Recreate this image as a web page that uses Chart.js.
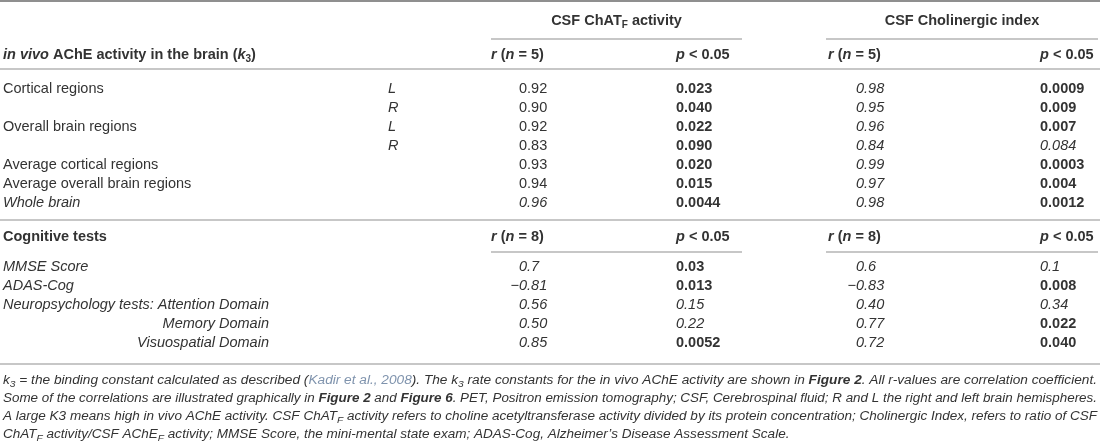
<!DOCTYPE html>
<html>
<head>
<meta charset="utf-8">
<title>Correlaciones k3 / CSF</title>
<script src="https://cdn.jsdelivr.net/npm/chart.js@4.4.1/dist/chart.umd.min.js"></script>
<style>
  html, body { margin: 0; padding: 0; background: #fff; overflow: hidden; }
</style>
</head>
<body>
<canvas id="tabla" width="1100" height="445"></canvas>
<script>
// Datos de la tabla
const regionRows = ['Cortical regions', '', 'Overall brain regions', '', 'Average cortical regions', 'Average overall brain regions', 'Whole brain'];
const hemisphere = ['L', 'R', 'L', 'R', '', '', ''];
const chatR1 = ['0.92', '0.90', '0.92', '0.83', '0.93', '0.94', '0.96'];
const chatP1 = ['0.023', '0.040', '0.022', '0.090', '0.020', '0.015', '0.0044'];
const choR1 = ['0.98', '0.95', '0.96', '0.84', '0.99', '0.97', '0.98'];
const choP1 = ['0.0009', '0.009', '0.007', '0.084', '0.0003', '0.004', '0.0012'];

const cogRows = ['MMSE Score', 'ADAS-Cog', 'Neuropsychology tests: Attention Domain', 'Memory Domain', 'Visuospatial Domain'];
const chatR2 = ['0.7', '\u22120.81', '0.56', '0.50', '0.85'];
const chatP2 = ['0.03', '0.013', '0.15', '0.22', '0.0052'];
const choR2 = ['0.6', '\u22120.83', '0.40', '0.77', '0.72'];
const choP2 = ['0.1', '0.008', '0.34', '0.022', '0.040'];

const groupHeaders = ['CSF ChAT|F| activity', 'CSF Cholinergic index'];
const nFirst = 5;
const nSecond = 8;

const footnoteLines = [
  [['k', 'i'], ['3', 'is'], [' = the binding constant calculated as described (', 'i'], ['Kadir et al., 2008', 'ic'], ['). The k', 'i'], ['3', 'is'], [' rate constants for the in vivo AChE activity are shown in ', 'i'], ['Figure 2', 'bi'], ['. All r-values are correlation coefficient.', 'i']],
  [['Some of the correlations are illustrated graphically in ', 'i'], ['Figure 2', 'bi'], [' and ', 'i'], ['Figure 6', 'bi'], ['. PET, Positron emission tomography; CSF, Cerebrospinal fluid; R and L the right and left brain hemispheres.', 'i']],
  [['A large K3 means high in vivo AChE activity. CSF ChAT', 'i'], ['F', 'is'], [' activity refers to choline acetyltransferase activity divided by its protein concentration; Cholinergic Index, refers to ratio of CSF', 'i']],
  [['ChAT', 'i'], ['F', 'is'], [' activity/CSF AChE', 'i'], ['F', 'is'], [' activity; MMSE Score, the mini-mental state exam; ADAS-Cog, Alzheimer\u2019s Disease Assessment Scale.', 'i']]
];

// Estilos (b = negrita, i = cursiva, n = normal)
const regionStyle = 'nnnnnni';
const chatR1Style = 'nnnnnni';
const chatP1Style = 'bbbbbbb';
const choR1Style = 'iiiiiii';
const choP1Style = 'bbbibbb';
const chatR2Style = 'iiiii';
const chatP2Style = 'bbiib';
const choR2Style = 'iiiii';
const choP2Style = 'ibibb';

// Maquetacion
const FONT = '"Liberation Sans", Arial, Helvetica, sans-serif';
const INK = '#333333';
const LINK = '#7f93ad';
const RULE = '#8f8f8f';
const SIZE = 14.5;
const col = { label: 3, side: 388, r1: 491, p1: 676, r2: 828, p2: 1040, valOff: 28 };
const spans = [[491, 742], [826, 1098]];
const rowsY = { group: 21, groupRule: 39, sub: 55, subRule: 69, first: 89, pitch: 19, midRule: 220, cog: 237, cogRule: 252, second: 267, endRule: 364, foot: 381, footPitch: 18 };

function segFont(st, size) {
  const s = st.includes('s') ? Math.round(size * 0.72) : size;
  return (st.includes('i') ? 'italic ' : '') + (st.includes('b') ? 'bold ' : '') + s + 'px ' + FONT;
}

function richWidth(c, segs, size) {
  let w = 0;
  segs.forEach(([t, st]) => { c.font = segFont(st, size); w += c.measureText(t).width; });
  return w;
}

function drawRich(c, segs, x, y, size, align, scaleX) {
  scaleX = scaleX || 1;
  const w = richWidth(c, segs, size) * scaleX;
  const x0 = align === 'center' ? x - w / 2 : align === 'right' ? x - w : x;
  c.save();
  c.translate(x0, y);
  c.scale(scaleX, 1);
  let cx = 0;
  segs.forEach(([t, st]) => {
    c.font = segFont(st, size);
    c.fillStyle = st.includes('c') ? LINK : INK;
    c.fillText(t, cx, st.includes('s') ? size * 0.3 : 0);
    cx += c.measureText(t).width;
  });
  c.restore();
}

// 'CSF ChAT|F| activity' -> segmentos con subindice
function headerSegs(txt) {
  return txt.split('|').map((t, i) => [t, i % 2 ? 'bs' : 'b']);
}

function styleCode(ch) {
  return ch === 'b' ? 'b' : ch === 'i' ? 'i' : '';
}

const tablePlugin = {
  id: 'tabla',
  afterDraw(chart) {
    const c = chart.ctx;
    const xs = chart.scales.x;
    const ys = chart.scales.y;
    const X = v => xs.getPixelForValue(v);
    const Y = v => ys.getPixelForValue(v);
    c.save();
    c.textBaseline = 'middle';
    c.textAlign = 'left';

    // lineas
    function rule(y, x0, x1, w) {
      c.strokeStyle = RULE;
      c.lineWidth = w || 1.2;
      c.beginPath();
      c.moveTo(X(x0), Y(y));
      c.lineTo(X(x1), Y(y));
      c.stroke();
    }
    rule(1, 0, 1100, 2);
    rule(rowsY.subRule, 0, 1100);
    rule(rowsY.midRule, 0, 1100);
    rule(rowsY.endRule, 0, 1100);
    spans.forEach(s => { rule(rowsY.groupRule, s[0], s[1]); rule(rowsY.cogRule, s[0], s[1]); });

    // cabeceras
    groupHeaders.forEach((h, i) => {
      drawRich(c, headerSegs(h), X((spans[i][0] + spans[i][1]) / 2), Y(rowsY.group), SIZE, 'center');
    });
    drawRich(c, [['in vivo', 'bi'], [' AChE activity in the brain (', 'b'], ['k', 'bi'], ['3', 'bs'], [')', 'b']], X(col.label), Y(rowsY.sub), SIZE, 'left');
    drawRich(c, [['Cognitive tests', 'b']], X(col.label), Y(rowsY.cog), SIZE, 'left');
    const rHead = n => [['r', 'bi'], [' (', 'b'], ['n', 'bi'], [' = ' + n + ')', 'b']];
    const pHead = [['p', 'bi'], [' < 0.05', 'b']];
    [[rowsY.sub, nFirst], [rowsY.cog, nSecond]].forEach(([y, n]) => {
      drawRich(c, rHead(n), X(col.r1), Y(y), SIZE, 'left');
      drawRich(c, rHead(n), X(col.r2), Y(y), SIZE, 'left');
      drawRich(c, pHead, X(col.p1), Y(y), SIZE, 'left');
      drawRich(c, pHead, X(col.p2), Y(y), SIZE, 'left');
    });

    // valor r alineado por el punto decimal
    function rVal(txt, st, x, y) {
      c.font = segFont(st, SIZE);
      const pre = txt.slice(0, txt.indexOf('.'));
      const dot = X(x + col.valOff) + c.measureText('0').width;
      drawRich(c, [[txt, st]], dot - c.measureText(pre).width, y, SIZE, 'left');
    }

    function section(labels, lStyle, side, rA, rAs, pA, pAs, rB, rBs, pB, pBs, y0, indentRef) {
      labels.forEach((lab, i) => {
        const y = Y(y0 + i * rowsY.pitch);
        const st = styleCode(lStyle[i]);
        if (indentRef && i > 2) {
          drawRich(c, [[lab, st]], indentRef, y, SIZE, 'right');
        } else {
          drawRich(c, [[lab, st]], X(col.label), y, SIZE, 'left');
        }
        if (side && side[i]) drawRich(c, [[side[i], 'i']], X(col.side), y, SIZE, 'left');
        rVal(rA[i], styleCode(rAs[i]), col.r1, y);
        drawRich(c, [[pA[i], styleCode(pAs[i])]], X(col.p1), y, SIZE, 'left');
        rVal(rB[i], styleCode(rBs[i]), col.r2, y);
        drawRich(c, [[pB[i], styleCode(pBs[i])]], X(col.p2), y, SIZE, 'left');
      });
    }

    section(regionRows, regionStyle, hemisphere, chatR1, chatR1Style, chatP1, chatP1Style, choR1, choR1Style, choP1, choP1Style, rowsY.first, null);
    const neuroEnd = X(col.label) + richWidth(c, [[cogRows[2], 'i']], SIZE);
    section(cogRows, 'iiiii', null, chatR2, chatR2Style, chatP2, chatP2Style, choR2, choR2Style, choP2, choP2Style, rowsY.second, neuroEnd);

    // notas al pie, justificadas
    const FS = 12;
    const target = X(1097) - X(col.label);
    const factors = footnoteLines.map(l => target / richWidth(c, l, FS));
    const avg = (factors[0] + factors[1] + factors[2]) / 3;
    footnoteLines.forEach((l, i) => {
      const f = i < footnoteLines.length - 1 ? factors[i] : avg;
      drawRich(c, l, X(col.label), Y(rowsY.foot + i * rowsY.footPitch), FS, 'left', f);
    });
    c.restore();
  }
};

const ctx = document.getElementById('tabla').getContext('2d');
const tabla = new Chart(ctx, {
  type: 'scatter',
  data: { datasets: [] },
  options: {
    responsive: false,
    animation: false,
    layout: { padding: 0 },
    plugins: { legend: { display: false }, tooltip: { enabled: false } },
    scales: {
      x: { type: 'linear', min: 0, max: 1100, display: false },
      y: { type: 'linear', min: 0, max: 445, reverse: true, display: false }
    }
  },
  plugins: [tablePlugin]
});
</script>
</body>
</html>
